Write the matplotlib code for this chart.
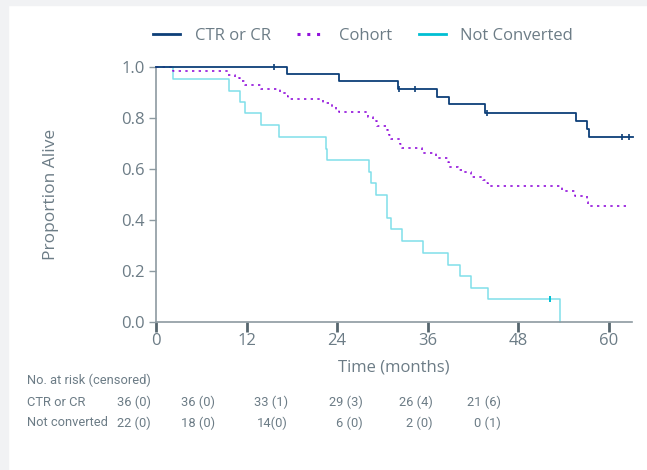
#!/usr/bin/env python3
import matplotlib

matplotlib.use("Agg")
import matplotlib.pyplot as plt
import numpy as np
from matplotlib.lines import Line2D
from matplotlib.patches import Rectangle

# Kaplan-Meier steps (months, proportion alive)
CTR_T = [0, 17.3, 24.2, 32.1, 37.3, 38.8, 43.6, 55.7, 57.1, 57.4]
CTR_S = [1.0, 0.970, 0.942, 0.914, 0.883, 0.852, 0.820, 0.789, 0.757, 0.726]
CTR_END = 63.2
CTR_CENSOR = [15.7, 32.2, 34.4, 43.9, 61.8, 62.7]

COH_T = [0, 2.3, 9.6, 10.5, 11.1, 11.8, 13.9, 16.4, 17.2, 17.5, 22.2, 23.3,
         23.8, 24.2, 28.1, 28.8, 29.3, 30.6, 30.9, 31.2, 32.3, 32.6, 35.2,
         37.1, 38.7, 38.8, 40.1, 40.6, 41.8, 43.4, 43.8, 44.0, 53.8, 55.6,
         57.1, 57.3]
COH_S = [1.0, 0.983, 0.966, 0.955, 0.945, 0.927, 0.911, 0.896, 0.885, 0.875,
         0.856, 0.841, 0.830, 0.822, 0.804, 0.788, 0.767, 0.752, 0.732, 0.716,
         0.697, 0.680, 0.661, 0.643, 0.625, 0.605, 0.595, 0.586, 0.569, 0.556,
         0.545, 0.531, 0.511, 0.493, 0.471, 0.454]
COH_END = 62.6

NC_T = [0, 2.3, 9.7, 11.2, 11.8, 13.9, 16.3, 22.5, 22.7, 28.2, 28.5, 29.2,
        30.6, 31.2, 32.6, 35.4, 38.7, 40.3, 41.7, 44.0, 53.6]
NC_S = [1.0, 0.953, 0.906, 0.862, 0.817, 0.770, 0.725, 0.679, 0.634, 0.589,
        0.543, 0.497, 0.407, 0.362, 0.316, 0.270, 0.224, 0.180, 0.134, 0.088,
        0.0]
NC_END = 53.6
NC_CENSOR = [52.2]

X_TICKS = [0, 12, 24, 36, 48, 60]
Y_TICKS = [0.0, 0.2, 0.4, 0.6, 0.8, 1.0]

RISK_ROWS = ["CTR or CR", "Not converted"]
RISK_CTR = ["36 (0)", "36 (0)", "33 (1)", "29 (3)", "26 (4)", "21 (6)"]
RISK_NC = ["22 (0)", "18 (0)", "14(0)", "6 (0)", "2 (0)", "0 (1)"]

NAVY = "#0d3f78"
PURPLE = "#9212dc"
CYAN = "#00bfd3"
TEXT = "#6c7c86"
SPINE = "#8d9aa1"

W, H = 647, 470


def step_value(times, surv, t):
    idx = np.searchsorted(times, t, side="right") - 1
    return np.asarray(surv)[idx]


def main() -> None:
    plt.rcParams["font.family"] = ["Open Sans", "DejaVu Sans"]
    fig = plt.figure(figsize=(W / 100, H / 100), dpi=100)

    # light grey frame on the top and left edges
    fig.patches.append(Rectangle((0, 1 - 5 / H), 1, 5 / H, transform=fig.transFigure,
                                 color="#f1f2f4", zorder=0))
    fig.patches.append(Rectangle((0, 0), 8 / W, 1, transform=fig.transFigure,
                                 color="#f1f2f4", zorder=0))

    ax = fig.add_axes([156 / W, 1 - 321.7 / H, (632 - 156) / W, (321.7 - 66.7) / H])

    ax.plot(CTR_T + [CTR_END], CTR_S + [CTR_S[-1]], drawstyle="steps-post",
            color=NAVY, lw=1.3, clip_on=False, zorder=4)
    ax.plot(COH_T + [COH_END], COH_S + [COH_S[-1]], drawstyle="steps-post",
            color=PURPLE, lw=1.2, dashes=(1.4, 2.6), clip_on=False, zorder=3)
    ax.plot(NC_T + [NC_END], NC_S + [NC_S[-1]], drawstyle="steps-post",
            color=CYAN, lw=1.1, alpha=0.5, clip_on=False, zorder=2)

    ax.plot(CTR_CENSOR, step_value(CTR_T, CTR_S, CTR_CENSOR), ls="none",
            marker="|", ms=5, mew=1.2, color=NAVY, clip_on=False, zorder=5)
    ax.plot(NC_CENSOR, step_value(NC_T, NC_S, NC_CENSOR), ls="none",
            marker="|", ms=5, mew=1.4, color=CYAN, clip_on=False, zorder=5)

    ax.set_xlim(0, 63.1)
    ax.set_ylim(0, 1.0)
    ax.set_xticks(X_TICKS)
    ax.set_yticks(Y_TICKS)
    ax.set_yticklabels([f"{v:.1f}" for v in Y_TICKS])

    for side in ("top", "right"):
        ax.spines[side].set_visible(False)
    for side in ("left", "bottom"):
        ax.spines[side].set_color(SPINE)
        ax.spines[side].set_linewidth(1.2)

    ax.tick_params(axis="y", direction="out", length=5, width=1, color=SPINE,
                   labelcolor=TEXT, labelsize=12, pad=3)
    ax.tick_params(axis="x", direction="out", length=7, width=2, color="#56666e",
                   labelcolor=TEXT, labelsize=12, pad=1)

    ax.set_xlabel("Time (months)", color=TEXT, fontsize=12, labelpad=8)
    ax.set_ylabel("Proportion Alive", color=TEXT, fontsize=12.5, labelpad=45)

    handles = [
        Line2D([], [], color=NAVY, lw=2),
        Line2D([], [], color=PURPLE, lw=2.2, dashes=(1, 2.2)),
        Line2D([], [], color=CYAN, lw=2),
    ]
    leg = fig.legend(handles, ["CTR or CR", "Cohort", "Not Converted"], ncol=3,
                     loc="center", bbox_to_anchor=(363 / W, 1 - 36 / H),
                     frameon=False, fontsize=12, handlelength=1.65,
                     handletextpad=0.85, columnspacing=1.6)
    for txt in leg.get_texts():
        txt.set_color(TEXT)

    table_font = ["Roboto", "DejaVu Sans"]
    fig.text(27 / W, 1 - 380 / H, "No. at risk (censored)", color=TEXT,
             fontsize=9.3, va="center", ha="left", family=table_font)
    col_x = [151, 215, 288, 363, 433, 501]
    for row, (label, vals) in enumerate(zip(RISK_ROWS, [RISK_CTR, RISK_NC])):
        yy = 1 - (402 + 21 * row) / H
        fig.text(27 / W, yy, label, color=TEXT, fontsize=9.3, va="center",
                 ha="left", family=table_font)
        for x, v in zip(col_x, vals):
            fig.text(x / W, yy, v, color=TEXT, fontsize=9.3, va="center",
                     ha="right", family=table_font)

    fig.savefig("out.png", dpi=100)


if __name__ == "__main__":
    main()
